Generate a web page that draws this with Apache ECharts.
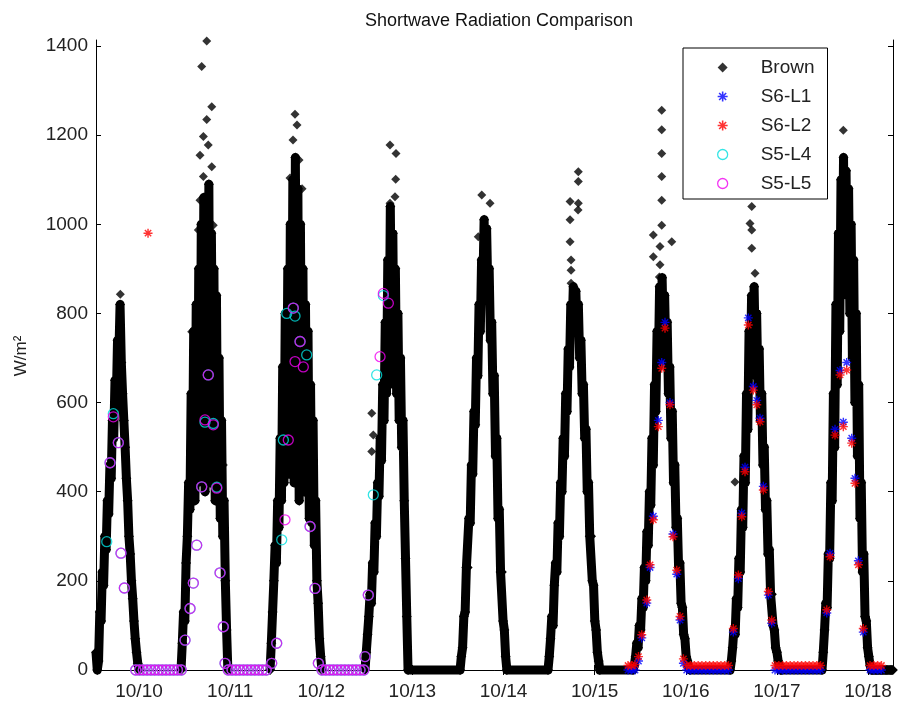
<!DOCTYPE html>
<html>
<head>
<meta charset="utf-8">
<title>Shortwave Radiation Comparison</title>
<script src="https://cdn.jsdelivr.net/npm/echarts@6/dist/echarts.min.js"></script>
<style>
  html, body { margin: 0; padding: 0; background: #fff; }
  #chart { width: 898px; height: 704px; }
</style>
</head>
<body>
<div id="chart"></div>
<script>
// x is the day of October (10.5 = 10/10 12:00), y is W/m2
const dayTicks = [10, 11, 12, 13, 14, 15, 16, 17, 18];
const radTicks = [0, 200, 400, 600, 800, 1000, 1200, 1400];

// Brown: one block per daylight period, readings 20 min apart from brownStart[i]
const brownStep = 1 / 72;
const brownStart = [9.528, 10.461, 11.438, 12.480, 13.523, 14.488, 15.421, 16.486, 17.495];
const brownDay1 = [40, 0, 20, 130, 110, 220, 190, 300, 270, 380, 350, 460, 430, 560, 520, 650, 600, 740, 700, 820,
  690, 620, 560, 500, 430, 380, 300, 260, 200, 160, 110, 70, 40, 15, 0];
const brownDay2 = [0, 60, 130, 110, 240, 300, 420, 360, 620, 420, 760, 380, 820, 420, 900, 460, 1000, 520, 1060, 400,
  940, 560, 1090, 420, 980, 600, 900, 380, 840, 420, 700, 340, 560, 300, 380, 200, 90, 0];
const brownDay3 = [0, 60, 130, 200, 280, 240, 380, 320, 520, 380, 680, 420, 800, 480, 900, 440, 1000, 560, 1100, 420,
  1150, 600, 1080, 380, 1000, 520, 900, 400, 820, 460, 760, 340, 640, 330, 560, 280, 380, 200, 150, 70, 30, 0];
const brownDay4 = [0, 40, 80, 120, 170, 150, 240, 220, 330, 300, 420, 390, 520, 470, 640, 560, 780, 620, 920, 680,
  1040, 720, 980, 640, 900, 620, 800, 560, 700, 500, 560, 380, 250, 120, 0];
const brownDay5 = [0, 30, 50, 120, 130, 230, 230, 340, 330, 460, 440, 580, 550, 700, 660, 820, 760, 920, 860, 1010,
  900, 990, 840, 900, 740, 780, 620, 660, 480, 520, 340, 360, 220, 220, 110, 90, 30, 0];
const brownDay6 = [0, 30, 70, 120, 100, 190, 240, 220, 330, 300, 420, 400, 520, 480, 620, 580, 720, 680, 820, 760,
  860, 790, 850, 760, 820, 700, 740, 620, 640, 520, 540, 400, 420, 300, 300, 200, 190, 110, 90, 40, 20, 0];
const brownDay7 = [0, 10, 30, 60, 50, 100, 90, 160, 140, 230, 200, 310, 280, 400, 370, 520, 460, 640, 580, 760,
  680, 860, 760, 880, 740, 840, 700, 780, 620, 680, 520, 580, 420, 460, 320, 340, 230, 240, 150, 140,
  80, 70, 30, 20, 5, 0];
const brownDay8 = [0, 20, 50, 90, 80, 160, 140, 250, 220, 360, 320, 480, 420, 620, 540, 760, 660, 840, 720, 860,
  700, 800, 640, 720, 560, 620, 460, 500, 360, 380, 260, 270, 170, 170, 100, 90, 50, 40, 20, 10, 0, 0];
const brownDay9 = [0, 40, 90, 150, 140, 260, 250, 420, 380, 620, 500, 820, 640, 980, 760, 1100, 860, 1150, 880, 1120,
  840, 1080, 800, 1000, 700, 920, 600, 800, 480, 640, 340, 420, 220, 260, 120, 110, 50, 30, 10, 0,
  0, 0, 0, 0, 0, 0, 0, 0, 0, 0, 0, 0, 0, 0, 0, 0, 0];

// Brown readings standing apart from the dense band
const brownPeaks = [
  [9.795, 843],
  [10.743, 1411], [10.688, 1354], [10.798, 1264], [10.743, 1235], [10.706, 1197], [10.760, 1178], [10.669, 1155],
  [10.798, 1129], [10.706, 1107], [10.760, 1069], [10.669, 1054], [10.815, 998], [10.651, 987], [10.578, 759],
  [10.596, 628], [10.925, 460],
  [11.712, 1247], [11.734, 1223], [11.690, 1189], [11.756, 1144], [11.657, 1104], [11.789, 1080],
  [12.754, 1178], [12.820, 1159], [12.817, 1101], [12.809, 1062], [12.754, 1047], [12.554, 576], [12.571, 527], [12.554, 490],
  [13.761, 1066], [13.852, 1047], [13.723, 972],
  [14.821, 1118], [14.821, 1096], [14.821, 1047], [14.818, 1032], [14.730, 1051], [14.730, 1010], [14.730, 961],
  [14.741, 920], [14.741, 897], [14.741, 868],
  [15.736, 1256], [15.736, 1212], [15.736, 1159], [15.736, 1107], [15.736, 1054], [15.736, 998], [15.644, 976],
  [15.644, 927], [15.846, 961], [15.717, 950], [15.717, 909], [15.710, 882],
  [16.724, 1040], [16.724, 987], [16.724, 946], [16.705, 1002], [16.760, 890], [16.540, 422],
  [17.729, 1211]
];

const s6L1 = [
  [15.366, 0], [15.405, 0], [15.443, 0], [15.481, 20], [15.517, 72], [15.572, 150], [15.608, 230], [15.644, 345],
  [15.699, 560], [15.736, 690], [15.772, 780], [15.827, 600], [15.860, 305], [15.901, 215], [15.937, 112],
  [15.974, 15], [16.010, 0],
  [16.052, 0], [16.094, 0], [16.136, 0], [16.177, 0], [16.219, 0], [16.261, 0], [16.302, 0], [16.344, 0],
  [16.386, 0], [16.427, 0], [16.469, 0],
  [16.522, 85], [16.577, 205], [16.614, 352], [16.650, 455], [16.686, 790], [16.741, 636], [16.779, 605],
  [16.815, 565], [16.851, 412], [16.906, 168], [16.943, 105], [16.979, 0],
  [17.021, 0], [17.063, 0], [17.104, 0], [17.146, 0], [17.188, 0], [17.229, 0], [17.271, 0], [17.313, 0],
  [17.354, 0], [17.396, 0], [17.438, 0], [17.479, 0],
  [17.547, 128], [17.583, 262], [17.638, 540], [17.693, 672], [17.729, 556], [17.766, 690], [17.821, 520],
  [17.857, 430], [17.894, 245], [17.948, 85], [18.022, 0],
  [18.064, 0], [18.105, 0], [18.147, 0]
];
const s6L2 = [
  [10.099, 980],
  [15.366, 10], [15.405, 10], [15.443, 12], [15.481, 30], [15.517, 79], [15.572, 157], [15.608, 236], [15.644, 337],
  [15.699, 546], [15.736, 677], [15.772, 767], [15.827, 595], [15.860, 299], [15.901, 224], [15.937, 120],
  [15.974, 25], [16.010, 10],
  [16.052, 10], [16.094, 10], [16.136, 10], [16.177, 10], [16.219, 10], [16.261, 10], [16.302, 10], [16.344, 10],
  [16.386, 10], [16.427, 10], [16.469, 10],
  [16.522, 93], [16.577, 213], [16.614, 344], [16.650, 445], [16.686, 774], [16.741, 628], [16.779, 595],
  [16.815, 557], [16.851, 404], [16.906, 176], [16.943, 112], [16.979, 10],
  [17.021, 10], [17.063, 10], [17.104, 10], [17.146, 10], [17.188, 10], [17.229, 10], [17.271, 10], [17.313, 10],
  [17.354, 10], [17.396, 10], [17.438, 10], [17.479, 10],
  [17.547, 135], [17.583, 254], [17.638, 527], [17.693, 662], [17.729, 546], [17.766, 673], [17.821, 509],
  [17.857, 419], [17.894, 236], [17.948, 93], [18.022, 10],
  [18.064, 10], [18.105, 10], [18.147, 10]
];

// S5 overnight readings, all zero
const s5NightTimes = [
  9.964, 10.005, 10.047, 10.089, 10.130, 10.172, 10.214, 10.255, 10.297, 10.339, 10.380, 10.422, 10.464,
  10.979, 11.021, 11.063, 11.104, 11.146, 11.188, 11.229, 11.271, 11.313, 11.354, 11.396,
  12.008, 12.050, 12.092, 12.133, 12.175, 12.217, 12.258, 12.300, 12.342, 12.383, 12.425, 12.467
];
const s5L4Day = [
  [9.646, 288], [9.682, 465], [9.718, 575], [9.773, 510], [9.802, 262], [9.839, 184],
  [10.505, 67], [10.560, 138], [10.596, 195], [10.633, 280], [10.688, 411], [10.724, 556], [10.760, 662],
  [10.815, 553], [10.853, 410], [10.889, 218], [10.925, 97], [10.944, 15],
  [11.456, 15], [11.511, 60], [11.566, 292], [11.584, 516], [11.621, 800], [11.693, 812], [11.712, 794],
  [11.767, 737], [11.840, 707], [11.877, 322], [11.931, 183], [11.968, 15],
  [12.480, 30], [12.516, 168], [12.571, 393], [12.608, 662], [12.681, 840]
];
const s5L5Day = [
  [9.682, 465], [9.718, 568], [9.773, 510], [9.802, 262], [9.839, 184],
  [10.505, 67], [10.560, 138], [10.596, 195], [10.633, 280], [10.688, 411], [10.724, 561], [10.760, 662],
  [10.815, 550], [10.853, 408], [10.889, 218], [10.925, 97], [10.944, 15],
  [11.456, 15], [11.511, 60], [11.602, 337], [11.638, 516], [11.693, 812], [11.712, 692], [11.767, 737],
  [11.803, 680], [11.877, 322], [11.931, 183], [11.968, 15],
  [12.480, 30], [12.516, 168], [12.645, 703], [12.681, 845], [12.736, 823]
];

const FONT = '"Liberation Sans", Arial, Helvetica, sans-serif';
const starPath = 'path://M0,4.2H10V5.8H0Z M4.2,0H5.8V10H4.2Z M0.93,2.07L2.07,0.93L9.07,7.93L7.93,9.07Z M7.93,0.93L9.07,2.07L2.07,9.07L0.93,7.93Z';
const CYAN = '#00dede';
const MAGENTA = '#f000f0';

const brownDays = [brownDay1, brownDay2, brownDay3, brownDay4, brownDay5, brownDay6, brownDay7, brownDay8, brownDay9];
const dayPoints = i => brownDays[i].map((v, k) => [brownStart[i] + k * brownStep, v]);
// the first three nights have no Brown readings, later nights sit on zero
const brownSegments = [[0], [1], [2], [3, 4, 5, 6, 7, 8]].map(idx => idx.flatMap(dayPoints));
const nightZeros = s5NightTimes.map(t => [t, 0]);

const xMin = 9.528, xMax = 18.274;
const yMin = -4.5, yMax = 1413.5;

const chart = echarts.init(document.getElementById('chart'));

const sideAxis = {
  axisLine: { show: true, lineStyle: { color: '#000', width: 1 } },
  splitLine: { show: false }
};

chart.setOption({
  animation: false,
  backgroundColor: '#fff',
  title: {
    text: 'Shortwave Radiation Comparison',
    left: 494,
    top: 7,
    textAlign: 'center',
    textStyle: { fontFamily: FONT, fontSize: 18, fontWeight: 'normal', color: '#111' }
  },
  grid: { left: 96, right: 5, top: 40, bottom: 32 },
  legend: {
    orient: 'vertical',
    left: 683,
    top: 48,
    padding: [10, 13, 6, 34],
    itemWidth: 10,
    itemHeight: 10,
    itemGap: 10,
    backgroundColor: '#fff',
    borderColor: '#000',
    borderWidth: 1,
    borderRadius: 0,
    textStyle: { fontFamily: FONT, fontSize: 19, color: '#222', padding: [0, 0, 0, 28] },
    data: [
      { name: 'Brown', icon: 'diamond' },
      { name: 'S6-L1', icon: starPath },
      { name: 'S6-L2', icon: starPath },
      { name: 'S5-L4', icon: 'circle', itemStyle: { color: 'rgba(0,0,0,0)', borderColor: CYAN, borderWidth: 1.3 } },
      { name: 'S5-L5', icon: 'circle', itemStyle: { color: 'rgba(0,0,0,0)', borderColor: MAGENTA, borderWidth: 1.3 } }
    ]
  },
  xAxis: [
    {
      ...sideAxis,
      type: 'value',
      position: 'bottom',
      min: xMin,
      max: xMax,
      axisTick: { show: true, inside: true, length: 5, lineStyle: { color: '#000' }, customValues: dayTicks },
      axisLabel: {
        show: true, margin: 10, customValues: dayTicks,
        fontFamily: FONT, fontSize: 19, color: '#222',
        formatter: v => '10/' + v
      }
    },
    {
      ...sideAxis,
      type: 'value',
      position: 'top',
      min: xMin,
      max: xMax,
      axisTick: { show: true, inside: true, length: 5, lineStyle: { color: '#000' }, customValues: dayTicks },
      axisLabel: { show: false }
    }
  ],
  yAxis: [
    {
      ...sideAxis,
      type: 'value',
      position: 'left',
      min: yMin,
      max: yMax,
      name: 'W/m²',
      nameLocation: 'middle',
      nameRotate: 90,
      nameGap: 66,
      nameTextStyle: { fontFamily: FONT, fontSize: 17, color: '#222' },
      axisTick: { show: true, inside: true, length: 5, lineStyle: { color: '#000' }, customValues: radTicks },
      axisLabel: {
        show: true, margin: 8, customValues: radTicks,
        fontFamily: FONT, fontSize: 19, color: '#222',
        formatter: v => String(v)
      }
    },
    {
      ...sideAxis,
      type: 'value',
      position: 'right',
      min: yMin,
      max: yMax,
      axisTick: { show: true, inside: true, length: 5, lineStyle: { color: '#000' }, customValues: radTicks },
      axisLabel: { show: false }
    }
  ],
  series: [
    {
      name: 'Brown', type: 'scatter', data: brownPeaks, z: 1,
      symbol: 'diamond', symbolSize: 9, itemStyle: { color: '#000' }
    },
    // the dense Brown band: consecutive readings joined so the band reads as one mass
    ...brownSegments.map(data => ({
      name: 'Brown band', type: 'line', data, z: 1,
      symbol: 'diamond', symbolSize: 10, showSymbol: true,
      itemStyle: { color: '#000' },
      lineStyle: { color: '#000', width: 9, join: 'round' },
      emphasis: { disabled: true }
    })),
    {
      name: 'S6-L1', type: 'scatter', data: s6L1, z: 3,
      symbol: starPath, symbolSize: 9, itemStyle: { color: '#0000ff' }
    },
    {
      name: 'S6-L2', type: 'scatter', data: s6L2, z: 4,
      symbol: starPath, symbolSize: 9, itemStyle: { color: '#ff0000' }
    },
    {
      name: 'S5-L4', type: 'scatter', data: nightZeros.concat(s5L4Day), z: 5,
      symbol: 'circle', symbolSize: 10,
      itemStyle: { color: 'rgba(0,0,0,0)', borderColor: CYAN, borderWidth: 1.3 }
    },
    {
      name: 'S5-L5', type: 'scatter', data: nightZeros.concat(s5L5Day), z: 6,
      symbol: 'circle', symbolSize: 10,
      itemStyle: { color: 'rgba(0,0,0,0)', borderColor: MAGENTA, borderWidth: 1.3 }
    }
  ]
});

window.addEventListener('resize', () => chart.resize());
</script>
</body>
</html>
